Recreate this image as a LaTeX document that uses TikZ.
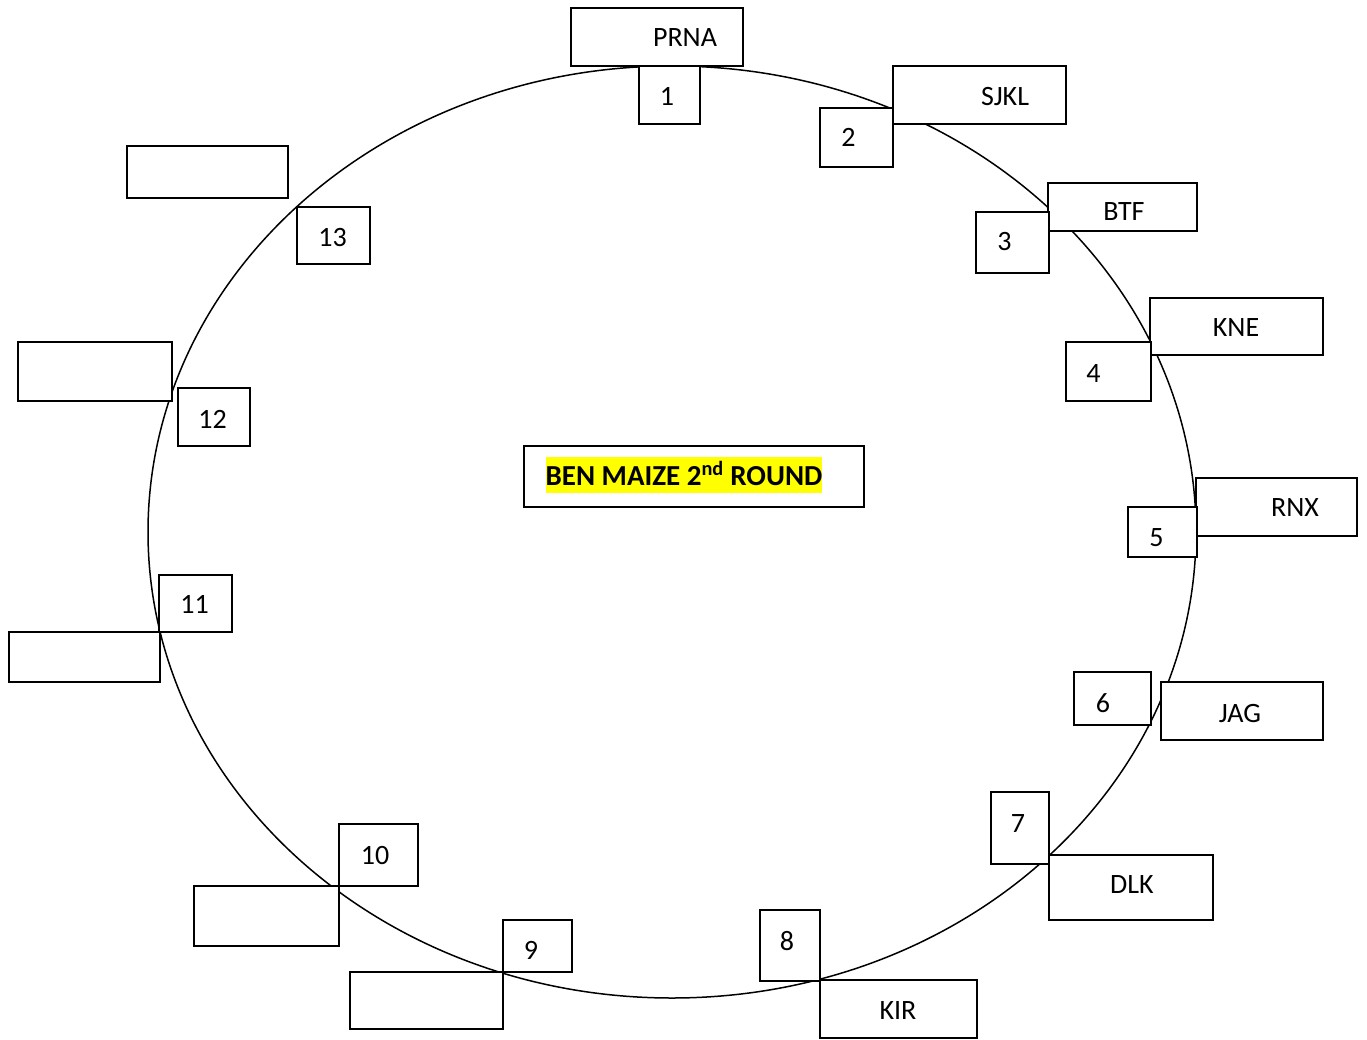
\documentclass[tikz,border=0pt]{standalone}
\usepackage{fontspec}
\setmainfont{Carlito}
\definecolor{hlyellow}{RGB}{255,255,0}
\newcommand\rbox[5]{\node[box, minimum width={#4-#2}, minimum height={#5-#3}] (#1) at ({(#2+#4)/2},{(#3+#5)/2}) {};}
\begin{document}
\begin{tikzpicture}[x=1pt,y=-1pt,
  box/.style={draw=black, fill=white, line width=1.8pt, inner sep=0pt, outer sep=0pt},
  lbl/.style={inner sep=0pt, anchor=base, font=\fontsize{28}{34}\selectfont},
  hl/.style={fill=hlyellow, inner sep=0pt, text height=28pt, text depth=8pt, anchor=base,
             font=\fontsize{29}{35}\selectfont\bfseries}]
\useasboundingbox[fill=white] (0,0) rectangle (1367,1040);
% ellipse
\draw[line width=1.5pt] (672,532) ellipse [x radius=524pt, y radius=466pt];
% boxes
\rbox{PRNA}{571}{8}{743}{66}
\rbox{b1}{639}{66}{700}{124}
\rbox{SJKL}{893}{66}{1066}{124}
\rbox{b2}{820}{108}{893}{167}
\rbox{BTF}{1048}{183}{1197}{231}
\rbox{b3}{976}{212}{1049}{273}
\rbox{KNE}{1150}{298}{1323}{355}
\rbox{b4}{1066}{342}{1151}{401}
\rbox{RNX}{1196}{478}{1357}{536}
\rbox{b5}{1128}{507}{1197}{557}
\rbox{b6}{1074}{672}{1151}{725}
\rbox{JAG}{1161}{682}{1323}{740}
\rbox{b7}{991}{792}{1049}{864}
\rbox{DLK}{1049}{855}{1213}{920}
\rbox{b8}{760}{910}{820}{981}
\rbox{KIR}{820}{980}{977}{1038}
\rbox{b9}{503}{920}{572}{972}
\rbox{e9}{350}{972}{503}{1029}
\rbox{b10}{339}{824}{418}{886}
\rbox{e10}{194}{886}{339}{946}
\rbox{b11}{159}{575}{232}{632}
\rbox{e11}{9}{632}{160}{682}
\rbox{b12}{178}{388}{250}{446}
\rbox{e12}{18}{342}{172}{401}
\rbox{b13}{297}{207}{370}{264}
\rbox{e13}{127}{146}{288}{198}
\rbox{center}{524}{446}{864}{507}
% labels
\node[lbl] (tPRNA) at (685,47) {PRNA};
\node[lbl] (t1) at (667,106) {1};
\node[lbl] (tSJKL) at (1005,106) {SJKL};
\node[lbl] (t2) at (848.5,147) {2};
\node[lbl] (tBTF) at (1124,221) {BTF};
\node[lbl] (t3) at (1004.5,251) {3};
\node[lbl] (tKNE) at (1236,337) {KNE};
\node[lbl] (t4) at (1093.5,382) {4};
\node[lbl] (tRNX) at (1295,516) {RNX};
\node[lbl] (t5) at (1156.5,546) {5};
\node[lbl] (t6) at (1103,712) {6};
\node[lbl] (tJAG) at (1240,722) {JAG};
\node[lbl] (t7) at (1018,832) {7};
\node[lbl] (tDLK) at (1132,893) {DLK};
\node[lbl] (t8) at (787,950) {8};
\node[lbl] (tKIR) at (898,1019) {KIR};
\node[lbl] (t9) at (531,959) {9};
\node[lbl] (t10) at (375,864) {10};
\node[lbl] (t11) at (194.5,613) {11};
\node[lbl] (t12) at (212.5,428) {12};
\node[lbl] (t13) at (332.5,247) {13};
\node[hl] (title) at (684,485) {BEN MAIZE 2\textsuperscript{nd} ROUND};
\end{tikzpicture}
\end{document}
